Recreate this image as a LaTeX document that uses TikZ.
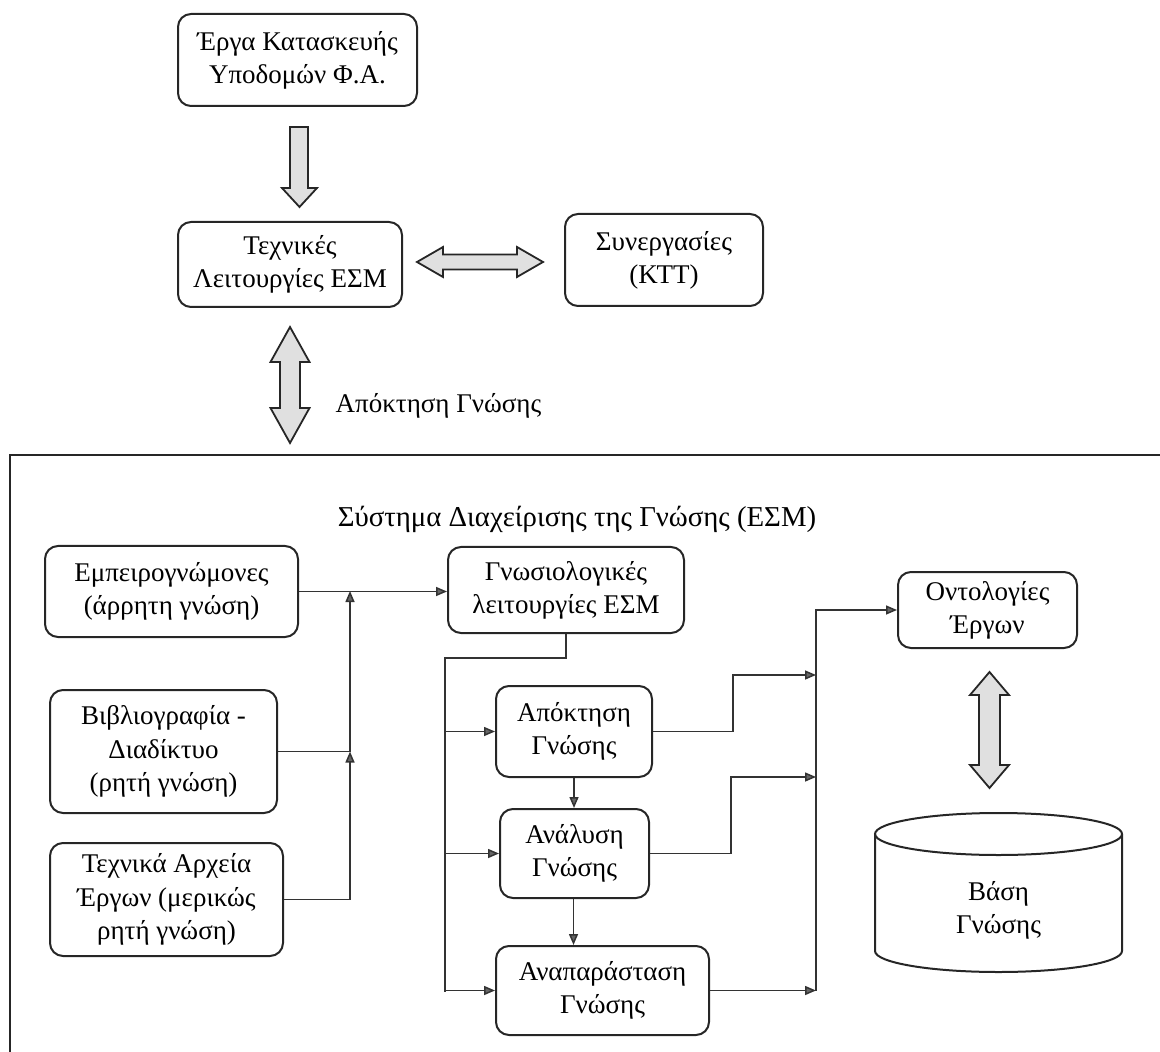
\documentclass[tikz,border=0pt]{standalone}
\usepackage{fontspec}
\setmainfont{Liberation Serif}
\usetikzlibrary{arrows.meta}
% vertical block arrow with two heads: cx, ytop, ybot, shaft half, head half, head length
\newcommand\blkdv[6]{%
  \draw[blk] (#1-#4,#2+#6) -- (#1-#5,#2+#6) -- (#1,#2) -- (#1+#5,#2+#6) -- (#1+#4,#2+#6)
    -- (#1+#4,#3-#6) -- (#1+#5,#3-#6) -- (#1,#3) -- (#1-#5,#3-#6) -- (#1-#4,#3-#6) -- cycle;}
% horizontal block arrow with two heads: cy, xleft, xright, shaft half, head half, head length
\newcommand\blkdh[6]{%
  \draw[blk] (#2+#6,#1-#4) -- (#2+#6,#1-#5) -- (#2,#1) -- (#2+#6,#1+#5) -- (#2+#6,#1+#4)
    -- (#3-#6,#1+#4) -- (#3-#6,#1+#5) -- (#3,#1) -- (#3-#6,#1-#5) -- (#3-#6,#1-#4) -- cycle;}
\begin{document}
\begin{tikzpicture}[x=0.5pt,y=-0.5pt,
  font=\fontsize{13.5}{16.6}\selectfont,
  sz/.style 2 args={minimum width=#1*0.5pt, minimum height=#2*0.5pt},
  box/.style={draw=black!85, line width=1pt, rounded corners=6.5pt, align=center, inner sep=0pt},
  link/.style={draw=black!80, line width=0.75pt},
  arr/.style={link, -{Triangle[length=5.5pt,width=4.5pt,fill=black!60]}},
  blk/.style={draw=black!85, line width=0.9pt, fill=black!12, line join=miter}]
\useasboundingbox (0,0) rectangle (1160,1052);

% outer frame of the knowledge management system (runs off the page)
\begin{scope}
  \clip (0,0) rectangle (1160,1052);
  \draw[line width=1pt, black!85] (10,455) rectangle (1220,1120);
\end{scope}

% upper part
\node[box, sz={239}{92}] (b1) at (297.5,60) {Έργα Κατασκευής\\Υποδομών Φ.Α.};
\node[box, sz={224}{85}] (b2) at (290,264.5) {Τεχνικές\\Λειτουργίες ΕΣΜ};
\node[box, sz={198}{92}] (b3) at (664,260) {Συνεργασίες\\(ΚΤΤ)};

% block arrows of the upper part
\draw[blk] (290,127) -- (308,127) -- (308,188) -- (317,188) -- (299.5,207)
  -- (282,188) -- (290,188) -- cycle;
\blkdh{262}{417}{543}{7.5}{15}{26}
\blkdv{290}{327}{443}{10}{19.5}{35}
\node[anchor=base] (lbl) at (438.5,413) {Απόκτηση Γνώσης};

% system title
\node[anchor=base, font=\fontsize{14.4}{17}\selectfont] (ttl) at (577,527)
  {Σύστημα Διαχείρισης της Γνώσης (ΕΣΜ)};

% knowledge sources
\node[box, sz={253}{91}] (emp) at (171.5,591.5) {Εμπειρογνώμονες\\(άρρητη γνώση)};
\node[box, sz={227}{123}] (bib) at (163.5,751.5) {Βιβλιογραφία -\\Διαδίκτυο\\(ρητή γνώση)};
\node[box, sz={233}{113}] (tech) at (166.5,899.5) {Τεχνικά Αρχεία\\Έργων (μερικώς\\ρητή γνώση)};

% knowledge processes
\node[box, sz={236}{86}] (gn) at (566,590) {Γνωσιολογικές\\λειτουργίες ΕΣΜ};
\node[box, sz={156}{91}] (acq) at (574,731.5) {Απόκτηση\\Γνώσης};
\node[box, sz={149}{89}] (ana) at (574.5,853.5) {Ανάλυση\\Γνώσης};
\node[box, sz={213}{89}] (rep) at (602.5,990.5) {Αναπαράσταση\\Γνώσης};

% ontologies and knowledge base
\node[box, sz={179}{76}] (ont) at (987.5,610) {Οντολογίες\\Έργων};
\draw[line width=1pt, black!85] (875,834) -- (875,951)
  arc[start angle=180, end angle=360, x radius=61.75pt, y radius=10.5pt] -- (1122,834);
\draw[line width=1pt, black!85] (998.5,834) ellipse[x radius=61.75pt, y radius=10.5pt];
\node[align=center] (db) at (998.5,910) {Βάση\\Γνώσης};
\blkdv{989.5}{672}{788}{10.5}{19.5}{23}

% junctions of the thin connectors
\coordinate (j0) at (350,591);
\coordinate (j1) at (350,751.5);
\coordinate (lb1) at (445,658);
\coordinate (lb2) at (445,992);
\coordinate (k1) at (733,675);
\coordinate (k2) at (731,777);
\coordinate (r1) at (816,675);
\coordinate (r2) at (816,777);
\coordinate (r3) at (816,990.5);

% sources into the knowledge functions
\draw[arr] (emp.east) -- (emp.east -| gn.west);
\draw[link] (bib.east) -- (j1);
\draw[arr] (tech.east) -| (j1);
\draw[arr] (j1) -- (j0);

% distribution to the three processes
\draw[link] (gn.south) |- (lb1) -- (lb2);
\draw[arr] (lb1 |- acq.west) -- (acq.west);
\draw[arr] (lb1 |- ana.west) -- (ana.west);
\draw[arr] (lb1 |- rep.west) -- (rep.west);
\draw[arr] (acq.south) -- (acq.south |- ana.north);
\draw[arr] ([xshift=-0.5pt]ana.south) -- ([xshift=-0.5pt]ana.south |- rep.north);

% collection bus towards the ontologies
\draw[arr] (acq.east) -| (k1) -- (r1);
\draw[arr] (ana.east) -| (k2) -- (r2);
\draw[arr] (rep.east) -- (r3);
\draw[arr] (r3) |- (ont.west);
\end{tikzpicture}
\end{document}
